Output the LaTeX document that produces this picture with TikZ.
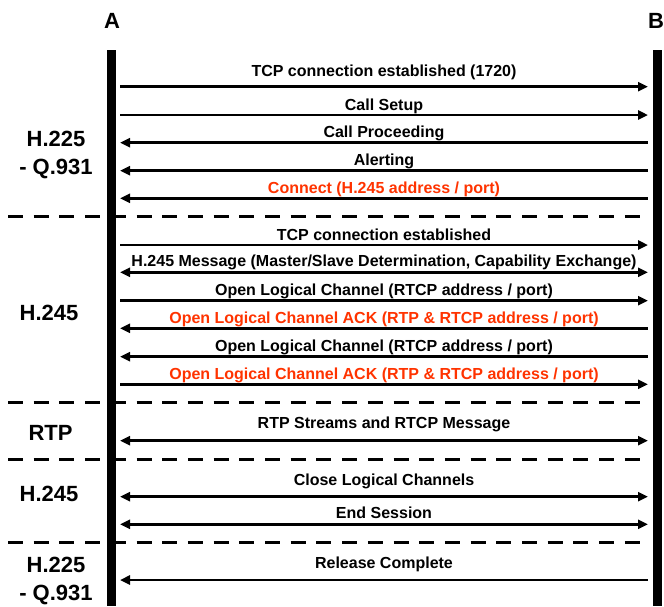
\documentclass[tikz,border=0pt]{standalone}
\usepackage{fontspec}
\setmainfont{Liberation Sans}
\usepackage{tikz}
\usetikzlibrary{arrows.meta, positioning}
\usepackage{xcolor}
\definecolor{ackRed}{RGB}{255,51,0}

\begin{document}
\begin{tikzpicture}[
    x=1pt, y=-1pt,
    msg/.style={line width=2.6pt},
    lbl/.style={font=\fontsize{16}{18}\selectfont\bfseries, anchor=base, inner sep=0pt, midway},
    sec/.style={font=\fontsize{22}{28}\selectfont\bfseries, align=center, inner sep=0pt},
    hdr/.style={font=\fontsize{22}{24}\selectfont\bfseries, anchor=base, inner sep=0pt},
    lifeline/.style={fill=black, inner sep=0pt, minimum width=9pt, minimum height=556pt},
    sep/.style={line width=3pt, dash pattern=on 15pt off 10.7pt},
    >={Triangle[length=10pt, width=9pt]}
]
\useasboundingbox (0,0) rectangle (664,606);

% end points
\node[hdr] (A) at (112,28.3) {A};
\node[hdr] (B) at (656,28.3) {B};
\node[lifeline] (lA) at (111.5,328) {};
\node[lifeline] (lB) at (657,328) {};

% H.225 - Q.931 (setup)
\node[sec] (s1) at (56,155) {H.225\\- Q.931};
\coordinate (a1) at (120,86.7);  \coordinate (b1) at (648,86.7);
\draw[msg,->] (a1) -- (b1) node[lbl, yshift=10pt] (t1) {TCP connection established (1720)};
\coordinate (a2) at (120,115);   \coordinate (b2) at (648,115);
\draw[msg,->] (a2) -- (b2) node[lbl, yshift=5pt] (t2) {Call Setup};
\coordinate (a3) at (120,142.7); \coordinate (b3) at (648,142.7);
\draw[msg,<-] (a3) -- (b3) node[lbl, yshift=5pt] (t3) {Call Proceeding};
\coordinate (a4) at (120,170.7); \coordinate (b4) at (648,170.7);
\draw[msg,<-] (a4) -- (b4) node[lbl, yshift=5pt] (t4) {Alerting};
\coordinate (a5) at (120,198.3); \coordinate (b5) at (648,198.3);
\draw[msg,<-] (a5) -- (b5) node[lbl, yshift=5pt, text=ackRed] (t5) {Connect (H.245 address / port)};

\coordinate (d1a) at (8,216.7); \coordinate (d1b) at (642,216.7);
\draw[sep] (d1a) -- (d1b);

% H.245
\node[sec, anchor=base] (s2) at (49,320) {H.245};
\coordinate (a6) at (120,245);    \coordinate (b6) at (648,245);
\draw[msg,->] (a6) -- (b6) node[lbl, yshift=5pt] (t6) {TCP connection established};
\coordinate (a7) at (120,272.3);  \coordinate (b7) at (648,272.3);
\draw[msg,<->] (a7) -- (b7) node[lbl, yshift=5.6pt] (t7) {H.245 Message (Master/Slave Determination, Capability Exchange)};
\coordinate (a8) at (120,300.7);  \coordinate (b8) at (648,300.7);
\draw[msg,->] (a8) -- (b8) node[lbl, yshift=5pt] (t8) {Open Logical Channel (RTCP address / port)};
\coordinate (a9) at (120,328.3);  \coordinate (b9) at (648,328.3);
\draw[msg,<-] (a9) -- (b9) node[lbl, yshift=5pt, text=ackRed] (t9) {Open Logical Channel ACK (RTP \& RTCP address / port)};
\coordinate (a10) at (120,356.7); \coordinate (b10) at (648,356.7);
\draw[msg,<-] (a10) -- (b10) node[lbl, yshift=5pt] (t10) {Open Logical Channel (RTCP address / port)};
\coordinate (a11) at (120,384.3); \coordinate (b11) at (648,384.3);
\draw[msg,->] (a11) -- (b11) node[lbl, yshift=5pt, text=ackRed] (t11) {Open Logical Channel ACK (RTP \& RTCP address / port)};

\coordinate (d2a) at (8,402.7); \coordinate (d2b) at (642,402.7);
\draw[sep] (d2a) -- (d2b);

% RTP
\node[sec, anchor=base] (s3) at (50.5,440.7) {RTP};
\coordinate (a12) at (120,440.7); \coordinate (b12) at (648,440.7);
\draw[msg,<->] (a12) -- (b12) node[lbl, yshift=12pt] (t12) {RTP Streams and RTCP Message};

\coordinate (d3a) at (8,459.3); \coordinate (d3b) at (642,459.3);
\draw[sep] (d3a) -- (d3b);

% H.245 (close)
\node[sec, anchor=base] (s4) at (49,501.7) {H.245};
\coordinate (a13) at (120,496.7); \coordinate (b13) at (648,496.7);
\draw[msg,<->] (a13) -- (b13) node[lbl, yshift=11.7pt] (t13) {Close Logical Channels};
\coordinate (a14) at (120,524.3); \coordinate (b14) at (648,524.3);
\draw[msg,<->] (a14) -- (b14) node[lbl, yshift=6pt] (t14) {End Session};

\coordinate (d4a) at (8,542.7); \coordinate (d4b) at (642,542.7);
\draw[sep] (d4a) -- (d4b);

% H.225 - Q.931 (release)
\node[sec] (s5) at (56,580.5) {H.225\\- Q.931};
\coordinate (a15) at (120,580); \coordinate (b15) at (648,580);
\draw[msg,<-] (a15) -- (b15) node[lbl, yshift=11.7pt] (t15) {Release Complete};
\end{tikzpicture}
\end{document}
